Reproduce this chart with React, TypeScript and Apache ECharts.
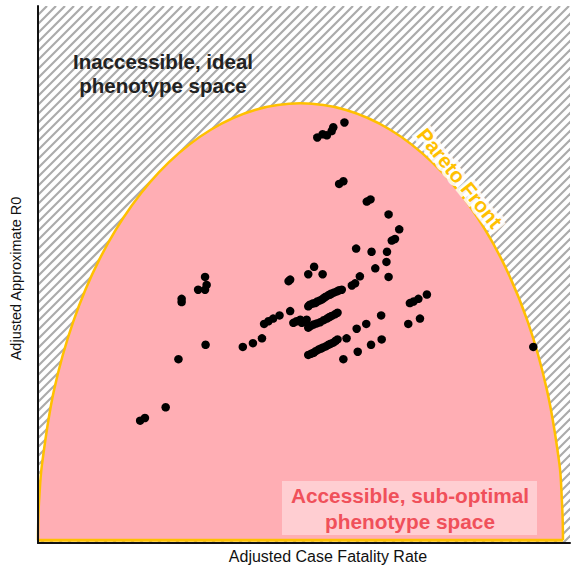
import React, { useEffect, useRef } from "react";
import * as echarts from "echarts";

// Pareto front (adjusted CFR, adjusted R0)
const frontCfr = [0, 0.0005, 0.0019, 0.0075, 0.0298, 0.0661, 0.1154, 0.1763, 0.2467, 0.3247, 0.4077, 0.4934, 0.5791, 0.6621, 0.7401, 0.8105, 0.8714, 0.9207, 0.957, 0.9802, 0.9849, 0.9863, 0.9868];
const frontR0 = [0, 0.0357, 0.0713, 0.142, 0.2797, 0.4089, 0.5257, 0.6265, 0.7082, 0.7685, 0.8054, 0.8178, 0.8054, 0.7685, 0.7082, 0.6265, 0.5257, 0.4089, 0.2797, 0.142, 0.0713, 0.0357, 0];

// Phenotypes
const cfrValues = [
  0.576, 0.555, 0.552, 0.543, 0.535, 0.525, 0.574, 0.566, 0.618, 0.625,
  0.659, 0.679, 0.671, 0.665, 0.598, 0.627, 0.656, 0.655, 0.634, 0.659,
  0.605, 0.596, 0.590, 0.571, 0.562, 0.552, 0.546, 0.538, 0.530, 0.521,
  0.511, 0.508, 0.731, 0.715, 0.706, 0.699, 0.718, 0.696, 0.314, 0.317,
  0.314, 0.301, 0.270, 0.270, 0.315, 0.264, 0.385, 0.404, 0.421, 0.519,
  0.508, 0.535, 0.474, 0.471, 0.474, 0.454, 0.442, 0.433, 0.425, 0.486,
  0.493, 0.496, 0.505, 0.508, 0.518, 0.530, 0.543, 0.552, 0.563, 0.645,
  0.617, 0.599, 0.508, 0.518, 0.527, 0.536, 0.546, 0.555, 0.563, 0.580,
  0.646, 0.626, 0.601, 0.574, 0.240, 0.201, 0.192, 0.931, 0.480, 0.516,
  0.525, 0.534, 0.541, 0.549, 0.557, 0.566, 0.500, 0.512, 0.524, 0.537,
  0.548, 0.558, 0.513, 0.522, 0.532, 0.541, 0.550, 0.559,
];
const r0Values = [
  0.782, 0.773, 0.766, 0.758, 0.760, 0.754, 0.672, 0.667, 0.634, 0.638,
  0.610, 0.582, 0.564, 0.561, 0.546, 0.540, 0.540, 0.521, 0.509, 0.493,
  0.494, 0.481, 0.477, 0.469, 0.466, 0.462, 0.459, 0.454, 0.449, 0.444,
  0.441, 0.438, 0.460, 0.452, 0.447, 0.444, 0.415, 0.405, 0.493, 0.478,
  0.469, 0.469, 0.452, 0.446, 0.366, 0.339, 0.362, 0.369, 0.378, 0.512,
  0.498, 0.498, 0.488, 0.485, 0.429, 0.421, 0.415, 0.410, 0.405, 0.410,
  0.413, 0.407, 0.413, 0.398, 0.404, 0.408, 0.415, 0.420, 0.426, 0.421,
  0.405, 0.396, 0.347, 0.351, 0.357, 0.361, 0.366, 0.370, 0.376, 0.378,
  0.376, 0.366, 0.353, 0.339, 0.249, 0.229, 0.224, 0.362, 0.407, 0.443,
  0.447, 0.451, 0.456, 0.460, 0.464, 0.468, 0.410, 0.401, 0.406, 0.412,
  0.418, 0.423, 0.349, 0.354, 0.359, 0.363, 0.368, 0.373,
];

const xAxisTitle = "Adjusted Case Fatality Rate";
const yAxisTitle = "Adjusted Approximate R0";
const idealLabel = "Inaccessible, ideal\nphenotype space";
const accessibleLabel = "Accessible, sub-optimal\nphenotype space";
const frontLabel = "Pareto Front";

const FONT = "'Liberation Sans', Arial, Helvetica, sans-serif";

export default function App() {
  const ref = useRef<HTMLDivElement>(null);

  useEffect(() => {
    if (!ref.current) return;
    const chart = echarts.init(ref.current, null, { renderer: "svg" });

    const frontData = frontCfr.map((x, i) => [x, frontR0[i]]);
    const points = cfrValues.map((x, i) => [x, r0Values[i]]);

    const option: any = {
      animation: false,
      backgroundColor: "#ffffff",
      grid: { left: 38, right: 2, top: 6, bottom: 25, containLabel: false },
      xAxis: {
        type: "value",
        min: 0,
        max: 1,
        z: 10,
        name: xAxisTitle,
        nameLocation: "middle",
        nameGap: 13,
        nameTextStyle: { fontFamily: FONT, fontSize: 16, color: "#111", verticalAlign: "middle", padding: [0, 0, 0, 48] },
        axisLine: { show: true, onZero: false, lineStyle: { color: "#111", width: 2 } },
        axisTick: { show: false },
        axisLabel: { show: false },
        splitLine: { show: false },
      },
      yAxis: {
        type: "value",
        min: -0.005,
        max: 1,
        z: 10,
        name: yAxisTitle,
        nameLocation: "middle",
        nameGap: 15,
        nameTextStyle: { fontFamily: FONT, fontSize: 14.5, color: "#111", padding: [0, 8, 0, 0] },
        axisLine: { show: true, onZero: false, lineStyle: { color: "#111", width: 2 } },
        axisTick: { show: false },
        axisLabel: { show: false },
        splitLine: { show: false },
      },
      series: [
        {
          type: "custom",
          name: "hatch",
          z: 1,
          silent: true,
          clip: true,
          data: [[0, 0]],
          renderItem: (params: any) => {
            const cs = params.coordSys;
            const children: any[] = [];
            const step = 9;
            for (let k = -cs.height; k < cs.width + step; k += step) {
              children.push({
                type: "line",
                shape: { x1: cs.x + k, y1: cs.y + cs.height, x2: cs.x + k + cs.height, y2: cs.y },
                style: { stroke: "#ababab", lineWidth: 2.2 },
              });
            }
            return { type: "group", children };
          },
        },
        {
          type: "line",
          name: "Pareto front",
          z: 2,
          data: frontData,
          smooth: 0.35,
          showSymbol: false,
          symbol: "none",
          clip: false,
          lineStyle: { color: "#FFC000", width: 2.5 },
          areaStyle: { color: "#FFAEB4", opacity: 1 },
        },
        {
          type: "line",
          name: "front base",
          z: 3,
          data: [[frontCfr[0], 0], [frontCfr[frontCfr.length - 1], 0]],
          showSymbol: false,
          symbol: "none",
          clip: false,
          lineStyle: { color: "#FFC000", width: 3 },
        },
        {
          type: "scatter",
          name: "phenotypes",
          z: 5,
          data: points,
          symbolSize: 8.5,
          itemStyle: { color: "#000000", opacity: 1 },
        },
      ],
      graphic: [
        {
          type: "text",
          z: 20,
          x: 163,
          y: 73,
          style: {
            text: idealLabel,
            font: `bold 20.5px ${FONT}`,
            fill: "#222222",
            textAlign: "center",
            textVerticalAlign: "middle",
            lineHeight: 24,
          },
        },
        {
          type: "rect",
          z: 20,
          shape: { x: 282, y: 481, width: 255, height: 54 },
          style: { fill: "rgba(255,255,255,0.4)" },
        },
        {
          type: "text",
          z: 21,
          x: 410,
          y: 508,
          style: {
            text: accessibleLabel,
            font: `bold 20.8px ${FONT}`,
            fill: "#F0505A",
            textAlign: "center",
            textVerticalAlign: "middle",
            lineHeight: 26,
          },
        },
        {
          type: "text",
          z: 20,
          x: 460,
          y: 178,
          rotation: -0.89,
          style: {
            text: frontLabel,
            font: `bold 20.5px ${FONT}`,
            fill: "#FFC000",
            stroke: "rgba(255,255,255,0.85)",
            lineWidth: 7,
            strokeFirst: true,
            textAlign: "center",
            textVerticalAlign: "middle",
          },
        },
      ],
    };

    chart.setOption(option);
    return () => chart.dispose();
  }, []);

  return (
    <div
      ref={ref}
      style={{ position: "fixed", left: 0, top: 0, width: 572, height: 569, overflow: "hidden" }}
    />
  );
}
